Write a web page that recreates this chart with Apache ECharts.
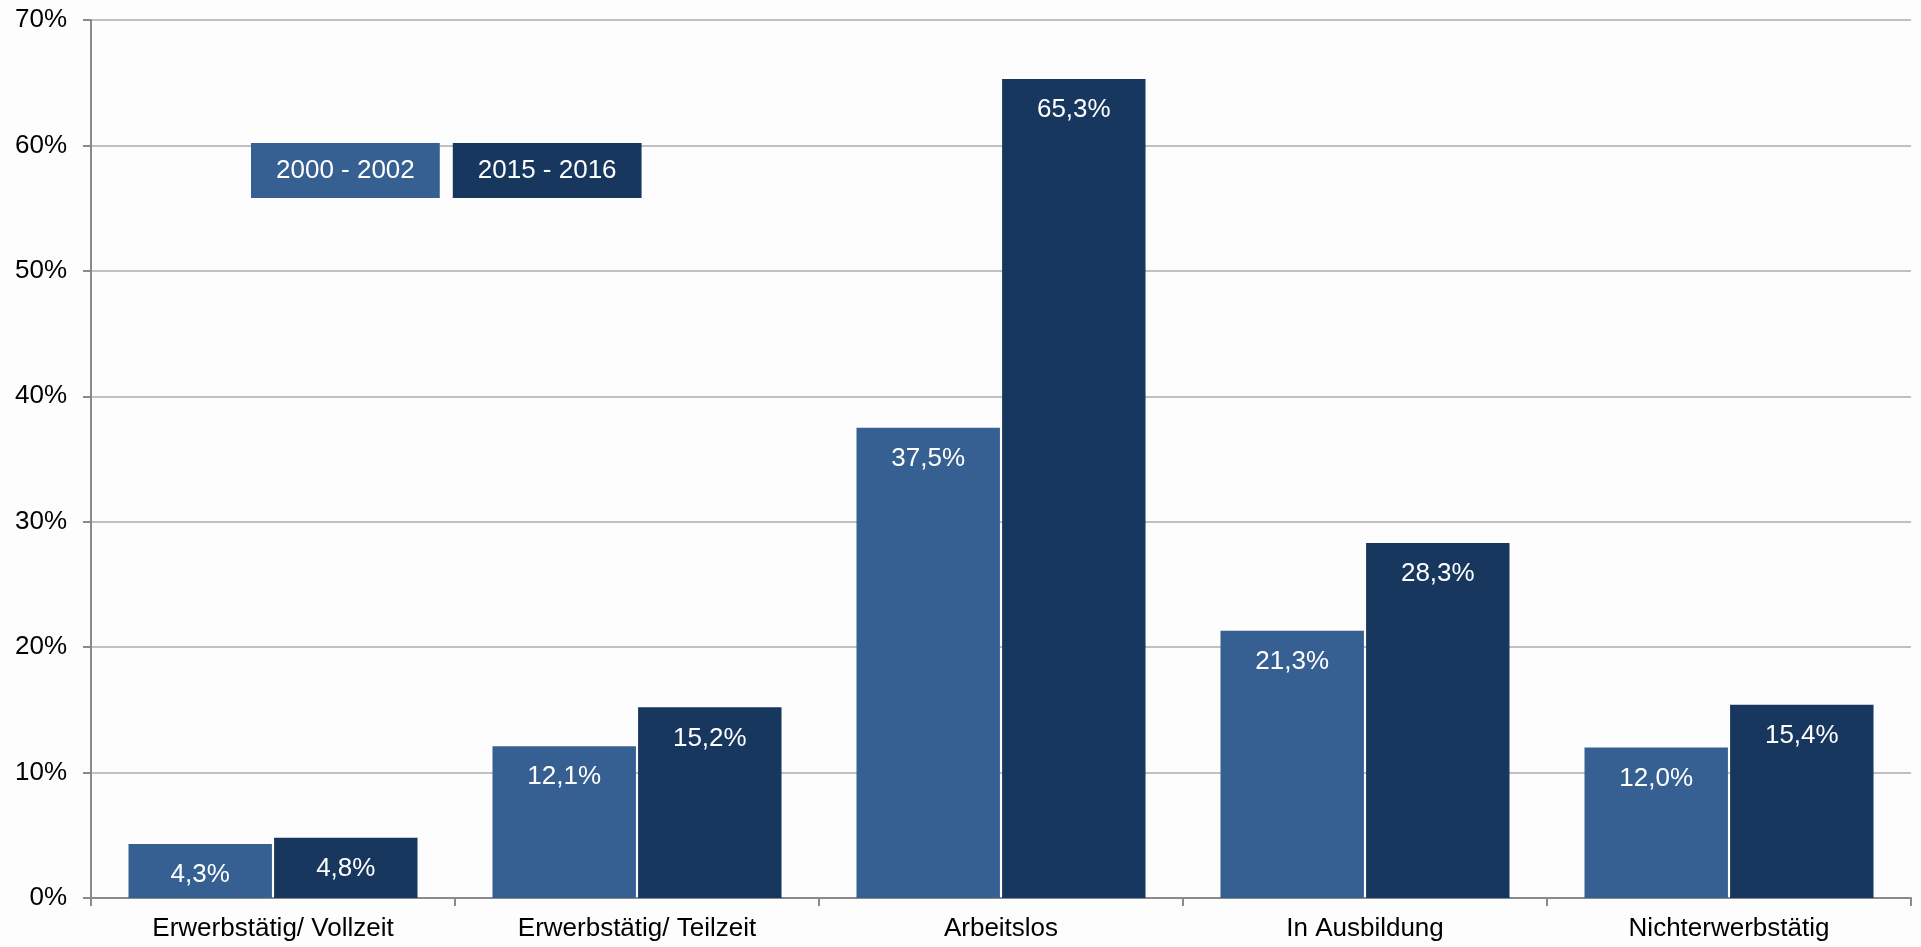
<!DOCTYPE html>
<html>
<head>
<meta charset="utf-8">
<script src="https://cdn.jsdelivr.net/npm/echarts@6/dist/echarts.min.js"></script>
<style>
html,body{margin:0;padding:0;background:#fdfdfd;}
#chart{width:1921px;height:947px;}
</style>
</head>
<body>
<div id="chart"></div>
<script>
const categories = ['Erwerbstätig/ Vollzeit', 'Erwerbstätig/ Teilzeit', 'Arbeitslos', 'In Ausbildung', 'Nichterwerbstätig'];
const seriesNames = ['2000 - 2002', '2015 - 2016'];
const values2000 = [4.3, 12.1, 37.5, 21.3, 12.0];
const values2015 = [4.8, 15.2, 65.3, 28.3, 15.4];
const yTicks = [0, 10, 20, 30, 40, 50, 60, 70];

const colors = ['#376092', '#17375E'];
const FONT = '"Liberation Sans", Arial, sans-serif';

const chart = echarts.init(document.getElementById('chart'));
function fmt(v) { return v.toFixed(1).replace('.', ',') + '%'; }

chart.setOption({
  backgroundColor: '#fdfdfd',
  animation: false,
  textStyle: { fontFamily: FONT },
  grid: { left: 91, right: 10, top: 20, bottom: 49, containLabel: false },
  legend: {
    left: 241, top: 138,
    orient: 'horizontal',
    itemWidth: 0, itemHeight: 0, itemGap: 8,
    selectedMode: false,
    data: seriesNames.map((n, i) => ({
      name: n,
      icon: 'rect',
      textStyle: {
        color: '#ffffff', fontSize: 26, fontFamily: FONT,
        backgroundColor: colors[i],
        padding: [15, 25, 14, 25], lineHeight: 26
      }
    }))
  },
  xAxis: {
    type: 'category',
    data: categories,
    axisLine: { lineStyle: { color: '#8a8a8a', width: 2 } },
    axisTick: { show: true, length: 8, lineStyle: { color: '#8a8a8a', width: 2 } },
    axisLabel: { color: '#000', fontSize: 26, fontFamily: FONT, margin: 18, interval: 0 }
  },
  yAxis: {
    type: 'value',
    min: yTicks[0], max: yTicks[yTicks.length - 1], interval: 10,
    axisLine: { show: true, lineStyle: { color: '#8a8a8a', width: 2 } },
    axisTick: { show: true, length: 8, lineStyle: { color: '#8a8a8a', width: 2 } },
    axisLabel: { color: '#000', fontSize: 26, fontFamily: FONT, margin: 24, formatter: '{value}%' },
    splitLine: { show: true, lineStyle: { color: '#c0c0c0', width: 2 } }
  },
  series: [
    {
      name: seriesNames[0], type: 'bar', data: values2000,
      itemStyle: { color: colors[0] },
      barGap: '1.5%', barCategoryGap: '20.6%',
      label: { show: true, position: 'insideTop', distance: 18, color: '#fff', fontSize: 26, fontFamily: FONT, formatter: p => fmt(p.value) }
    },
    {
      name: seriesNames[1], type: 'bar', data: values2015,
      itemStyle: { color: colors[1] },
      barGap: '1.5%', barCategoryGap: '20.6%',
      label: { show: true, position: 'insideTop', distance: 18, color: '#fff', fontSize: 26, fontFamily: FONT, formatter: p => fmt(p.value) }
    }
  ]
});
</script>
</body>
</html>
